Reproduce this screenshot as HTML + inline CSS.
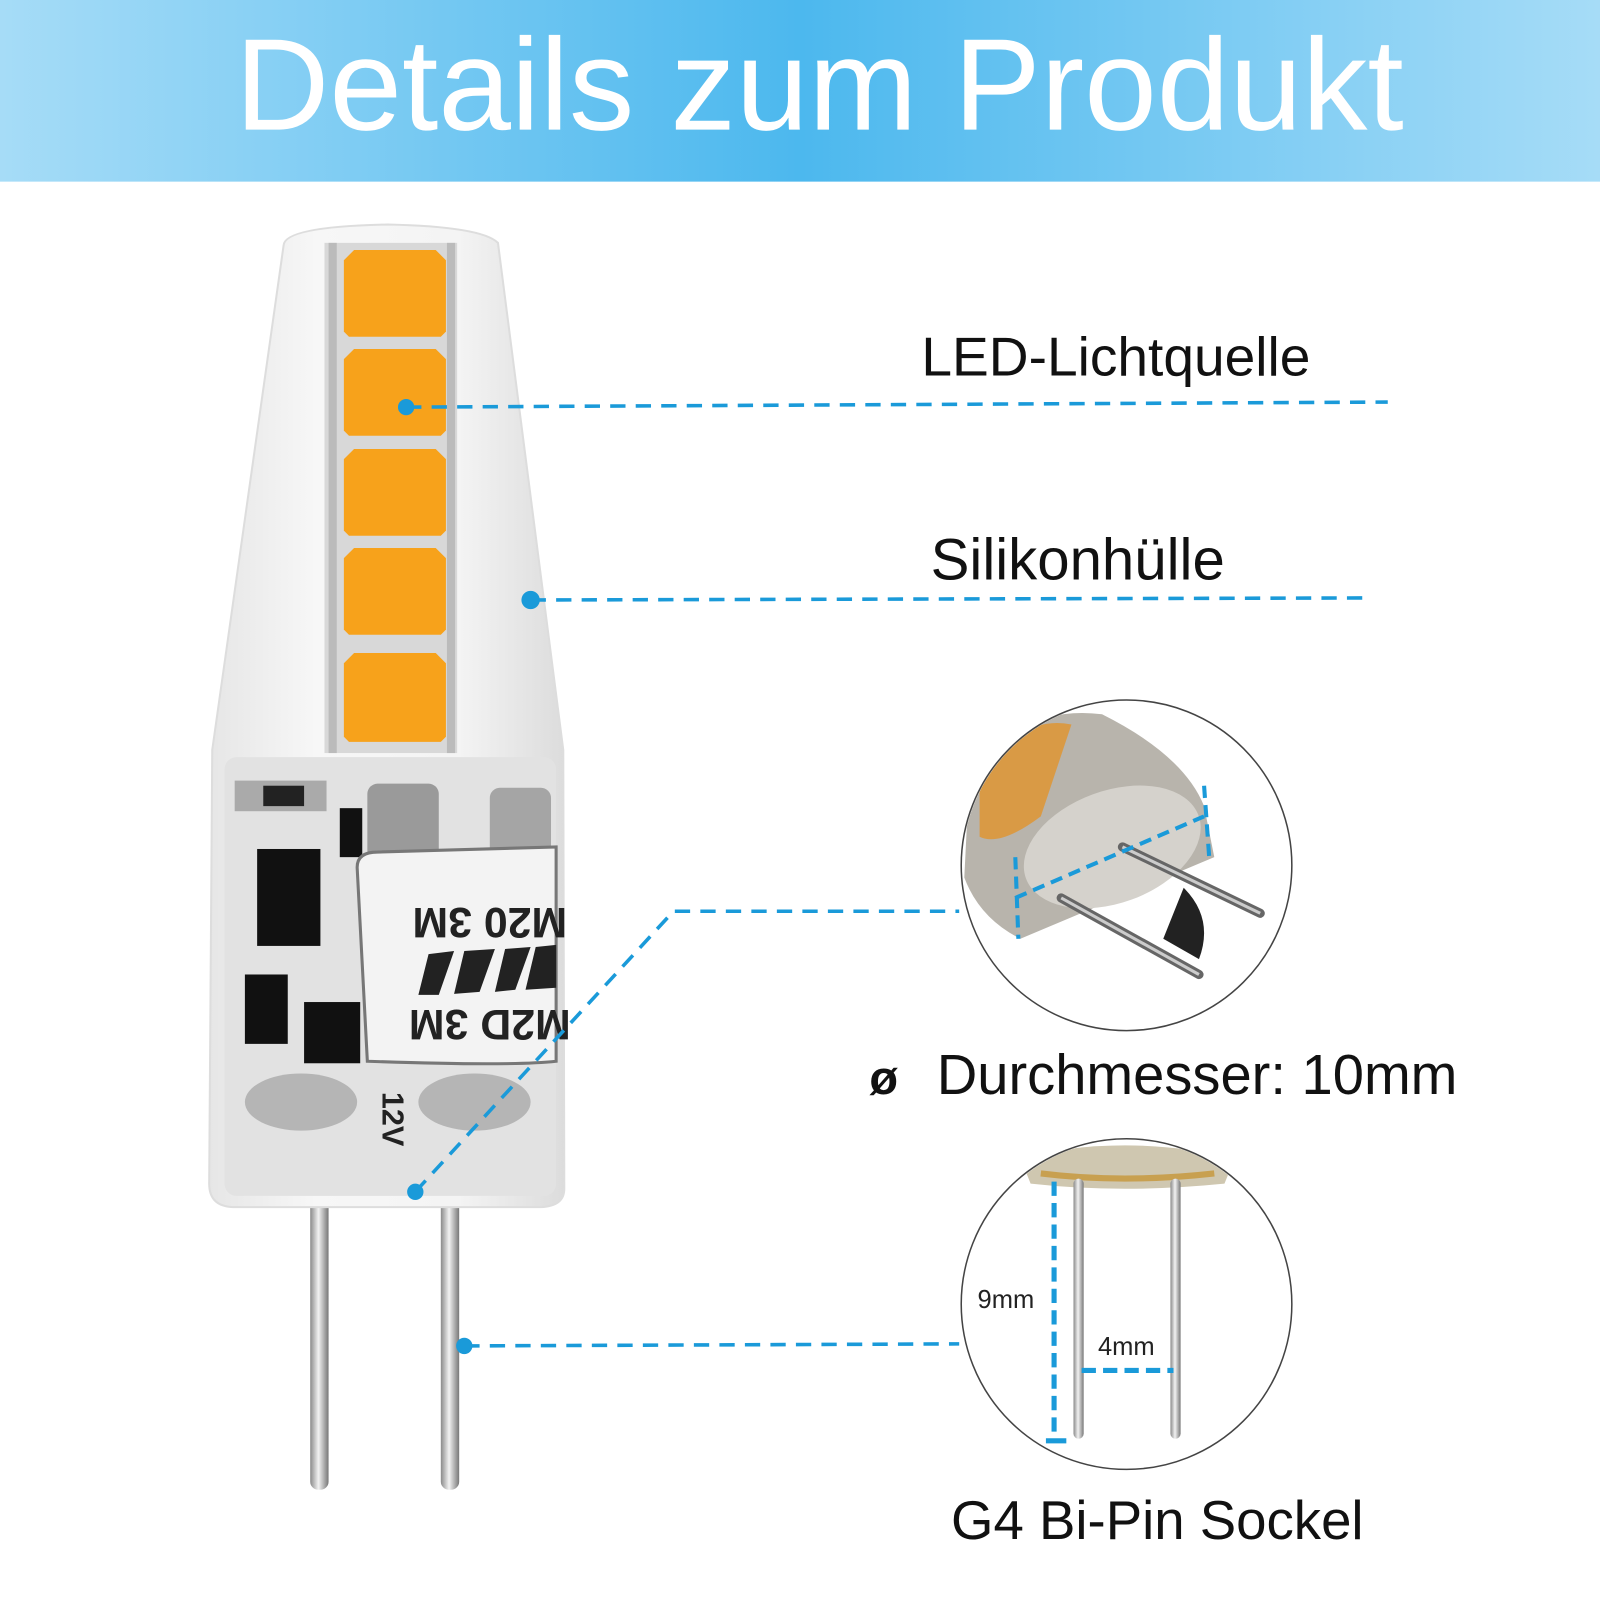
<!DOCTYPE html>
<html><head><meta charset="utf-8"><style>
html,body{margin:0;padding:0;background:#fff;width:1600px;height:1600px;overflow:hidden}
svg{display:block}
text{font-family:"Liberation Sans","DejaVu Sans",sans-serif}
</style></head><body>
<svg width="1600" height="1600" viewBox="0 0 1568 1568" xmlns="http://www.w3.org/2000/svg">
<defs>
<linearGradient id="hd" x1="0" x2="1" y1="0" y2="0">
<stop offset="0" stop-color="#a6dcf7"/><stop offset="0.5" stop-color="#4cb8ee"/><stop offset="1" stop-color="#a6dcf7"/>
</linearGradient>
<linearGradient id="body" x1="0" x2="1">
<stop offset="0" stop-color="#e6e6e6"/><stop offset="0.3" stop-color="#f7f7f7"/><stop offset="0.7" stop-color="#f4f4f4"/><stop offset="1" stop-color="#dcdcdc"/>
</linearGradient>
<linearGradient id="pin" x1="0" x2="1">
<stop offset="0" stop-color="#8a8a8a"/><stop offset="0.45" stop-color="#f2f2f2"/><stop offset="1" stop-color="#777"/>
</linearGradient>
</defs>
<rect width="1568" height="1568" fill="#fff"/>
<rect width="1568" height="178" fill="url(#hd)"/>
<text x="803" y="127" font-size="128" fill="#fff" text-anchor="middle">Details zum Produkt</text>

<!-- pins -->
<rect x="304" y="1170" width="18" height="290" rx="8" fill="url(#pin)"/>
<rect x="432" y="1170" width="18" height="290" rx="8" fill="url(#pin)"/>
<!-- body -->
<path d="M278 240 Q280 222 380 220 Q472 222 488 238 L552 735 L553 1165 Q553 1182 530 1183 L228 1183 Q205 1182 205 1160 L208 735 Z" fill="url(#body)" stroke="#ddd" stroke-width="2"/>
<rect x="318" y="238" width="130" height="500" fill="#d8d8d8"/>
<rect x="322" y="238" width="8" height="500" fill="#bbb"/>
<rect x="438" y="238" width="8" height="500" fill="#bbb"/>
<g fill="#f7a21b">
<path d="M337 255 l10 -10 h80 l10 10 v70 l-5 5 h-90 l-5 -5z"/>
<path d="M337 352 l10 -10 h80 l10 10 v70 l-5 5 h-90 l-5 -5z"/>
<path d="M337 450 l10 -10 h80 l10 10 v70 l-5 5 h-90 l-5 -5z"/>
<path d="M337 547 l10 -10 h80 l10 10 v70 l-5 5 h-90 l-5 -5z"/>
<path d="M337 650 l10 -10 h80 l10 10 v72 l-5 5 h-90 l-5 -5z"/>
</g>
<!-- pcb -->
<rect x="220" y="742" width="325" height="430" rx="12" fill="#e2e2e2"/>
<rect x="230" y="765" width="90" height="30" fill="#aaa"/>
<rect x="258" y="770" width="40" height="20" fill="#222"/>
<rect x="333" y="792" width="22" height="48" fill="#111"/>
<rect x="252" y="832" width="62" height="95" fill="#111"/>
<rect x="240" y="955" width="42" height="68" fill="#111"/>
<rect x="298" y="982" width="55" height="60" fill="#111"/>
<rect x="360" y="768" width="70" height="75" rx="10" fill="#9a9a9a"/>
<rect x="480" y="772" width="60" height="70" rx="10" fill="#a5a5a5"/>
<path d="M350 850 Q350 835 370 835 L545 830 L545 1040 Q500 1045 360 1040 Z" fill="#f3f3f3" stroke="#777" stroke-width="3"/>
<text x="480" y="920" font-size="42" font-weight="bold" fill="#222" text-anchor="middle" transform="rotate(180 480 905)">M20 3M</text>
<text x="480" y="1020" font-size="42" font-weight="bold" fill="#222" text-anchor="middle" transform="rotate(180 480 1005)">M2D 3M</text>
<g fill="#222">
<polygon points="420,935 445,932 430,975 410,975"/>
<polygon points="455,932 485,930 470,972 445,974"/>
<polygon points="495,930 520,928 505,970 485,972"/>
<polygon points="525,928 545,926 545,968 515,970"/>
</g>
<ellipse cx="295" cy="1080" rx="55" ry="28" fill="#b5b5b5"/>
<ellipse cx="465" cy="1080" rx="55" ry="28" fill="#b5b5b5"/>
<text x="375" y="1070" font-size="30" font-weight="bold" fill="#222" transform="rotate(90 375 1070)">12V</text>

<!-- dashed lines -->
<g stroke="#1a9ad9" stroke-width="3.5" stroke-dasharray="15 10" fill="none">
<path d="M398 399 L1360 394"/>
<path d="M520 588 L1335 586"/>
<path d="M407 1168 L660 893 L940 893"/>
<path d="M455 1319 L940 1317"/>
</g>
<g fill="#1a9ad9">
<circle cx="398" cy="399" r="8"/><circle cx="520" cy="588" r="9"/>
<circle cx="407" cy="1168" r="8"/><circle cx="455" cy="1319" r="8"/>
</g>

<!-- circle 1 -->
<circle cx="1104" cy="848" r="162" fill="#fff" stroke="#444" stroke-width="1.5"/>
<clipPath id="c1"><circle cx="1104" cy="848" r="161"/></clipPath>
<g clip-path="url(#c1)">
<path d="M950 760 Q1000 690 1080 700 Q1160 740 1180 790 L1190 840 L1000 920 Q960 900 945 860 Z" fill="#b8b4ac"/>
<path d="M960 760 Q1000 700 1050 710 L1020 800 Q980 830 960 820 Z" fill="#d99a45"/>
<ellipse cx="1090" cy="830" rx="90" ry="55" fill="#d5d2cc" transform="rotate(-20 1090 830)"/>
<path d="M1040 880 L1175 955" stroke="#666" stroke-width="9" stroke-linecap="round"/>
<path d="M1100 830 L1235 895" stroke="#666" stroke-width="9" stroke-linecap="round"/>
<path d="M1040 880 L1175 955" stroke="#ccc" stroke-width="3"/>
<path d="M1100 830 L1235 895" stroke="#ccc" stroke-width="3"/>
<path d="M1160 870 Q1190 900 1175 940 L1140 920 Z" fill="#222"/>
<g stroke="#1a9ad9" stroke-width="4" stroke-dasharray="12 7" fill="none">
<path d="M995 880 L1180 800"/><path d="M995 840 L998 920"/><path d="M1180 770 L1185 840"/>
</g>
</g>
<text x="852" y="1072" font-size="46" font-weight="bold" fill="#111">ø</text>
<text x="918" y="1072" font-size="55" fill="#111">Durchmesser: 10mm</text>

<!-- circle 2 -->
<circle cx="1104" cy="1278" r="162" fill="#fff" stroke="#444" stroke-width="1.5"/>
<clipPath id="c2"><circle cx="1104" cy="1278" r="161"/></clipPath>
<g clip-path="url(#c2)">
<path d="M1000 1135 Q1100 1110 1210 1135 L1200 1160 Q1100 1170 1010 1160 Z" fill="#cfc7b0"/>
<path d="M1020 1150 Q1100 1160 1190 1150" stroke="#c8a050" stroke-width="6" fill="none"/>
</g>
<rect x="1052" y="1155" width="10" height="255" rx="5" fill="url(#pin)"/>
<rect x="1147" y="1155" width="10" height="255" rx="5" fill="url(#pin)"/>
<g stroke="#1a9ad9" stroke-width="5" fill="none">
<path d="M1033 1158 L1033 1412" stroke-dasharray="14 7"/>
<path d="M1025 1412 L1045 1412"/>
<path d="M1060 1343 L1150 1343" stroke-dasharray="14 7"/>
</g>
<text x="958" y="1282" font-size="25" fill="#222">9mm</text>
<text x="1076" y="1328" font-size="25" fill="#222">4mm</text>

<text x="903" y="368" font-size="54" fill="#111">LED-Lichtquelle</text>
<text x="912" y="568" font-size="57" fill="#111">Silikonhülle</text>
<text x="932" y="1508" font-size="53.5" fill="#111">G4 Bi-Pin Sockel</text>
</svg>
</body></html>
